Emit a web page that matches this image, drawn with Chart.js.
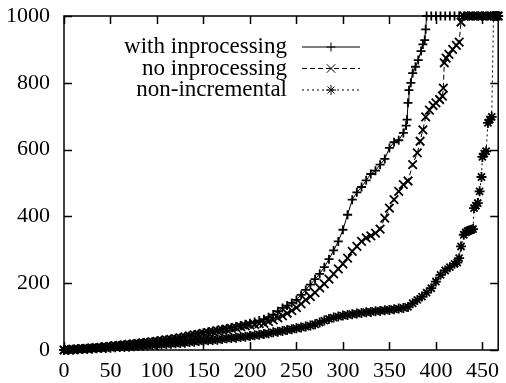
<!DOCTYPE html>
<html>
<head>
<meta charset="utf-8">
<script src="https://cdn.jsdelivr.net/npm/chart.js@4.4.1/dist/chart.umd.min.js"></script>
<style>
  html, body { margin: 0; padding: 0; background: #fff; }
  canvas { display: block; }
</style>
</head>
<body>
<canvas id="cactusChart" width="506" height="383"></canvas>
<script>
// solved instances (sorted) vs. time
const seriesNames = ['with inprocessing', 'no inprocessing', 'non-incremental'];

const withInprocX = [0, 5, 10, 15, 20, 25, 30, 35, 40, 45, 50, 55, 60, 65, 70, 75, 80, 85, 90, 95,
    100, 105, 110, 115, 120, 125, 130, 135, 140, 145, 150, 155, 160, 165, 170, 175, 180, 185, 190, 195,
    200, 205, 210, 215, 220, 225, 230, 235, 240, 245, 250, 255, 260, 265, 270, 275, 280, 285, 290, 295,
    300, 305, 310, 315, 320, 325, 330, 335, 340, 345, 350, 355, 360, 365,
    368, 369, 370, 371, 373, 375, 378, 381, 384, 386, 388, 389,
    390, 395, 400, 405, 410, 415, 420, 425, 430, 435, 440, 445, 450, 455, 460, 465, 467];
const withInprocY = [0, 1, 2, 3, 4, 5, 6, 7, 9, 10, 12, 13, 14, 16, 17, 19, 20, 22, 24, 25,
    27, 29, 31, 33, 35, 37, 40, 43, 46, 49, 52, 54, 57, 59, 62, 64, 67, 70, 73, 77,
    80, 84, 88, 92, 98, 106, 116, 126, 133, 141, 150, 165, 180, 196, 212, 228, 248, 272, 298, 325,
    360, 405, 450, 472, 488, 508, 527, 537, 555, 572, 605, 622, 628, 650,
    672, 690, 740, 778, 800, 829, 848, 868, 895, 915, 928, 960,
    1000, 1000, 1000, 1000, 1000, 1000, 1000, 1000, 1000, 1000, 1000, 1000, 1000, 1000, 1000, 1000, 1000];

const noInprocX = [0, 5, 10, 15, 20, 25, 30, 35, 40, 45, 50, 55, 60, 65, 70, 75, 80, 85, 90, 95,
    100, 105, 110, 115, 120, 125, 130, 135, 140, 145, 150, 155, 160, 165, 170, 175, 180, 185, 190, 195,
    200, 205, 210, 215, 220, 225, 230, 235, 240, 245, 250, 255, 260, 265, 270, 275, 280, 285, 290, 295,
    300, 305, 310, 315, 320, 325, 330, 335, 340, 345, 350, 355, 360, 365, 370, 375, 380,
    383, 386, 389, 393, 397, 400, 404, 407, 408, 409, 411, 414, 418, 422, 425, 427,
    430, 435, 440, 445, 450, 455, 460, 465, 467];
const noInprocY = [0, 1, 2, 3, 4, 5, 6, 7, 8, 10, 11, 13, 14, 15, 17, 18, 20, 21, 23, 24,
    26, 28, 30, 32, 34, 36, 39, 42, 45, 47, 50, 52, 55, 57, 60, 62, 65, 67, 70, 72,
    75, 77, 79, 80, 85, 90, 96, 102, 110, 118, 127, 138, 150, 160, 172, 186, 198, 212, 228, 243,
    258, 275, 295, 310, 325, 336, 342, 350, 362, 395, 425, 450, 475, 495, 506, 555, 590,
    625, 659, 698, 718, 732, 740, 750, 760, 784, 860, 874, 885, 900, 912, 922, 982,
    1000, 1000, 1000, 1000, 1000, 1000, 1000, 1000, 1000];

const nonIncX = [0, 5, 10, 15, 20, 25, 30, 35, 40, 45, 50, 55, 60, 65, 70, 75, 80, 85, 90, 95,
    100, 105, 110, 115, 120, 125, 130, 135, 140, 145, 150, 155, 160, 165, 170, 175, 180, 185, 190, 195,
    200, 205, 210, 215, 220, 225, 230, 235, 240, 245, 250, 255, 260, 265, 270, 275, 280, 285, 290, 295,
    300, 305, 310, 315, 320, 325, 330, 335, 340, 345, 350, 355, 360, 365, 370, 375, 380, 385, 390, 395,
    400, 405, 410, 415, 420, 423, 425, 427, 430, 432, 434, 436, 438, 440, 441, 443, 445, 447, 449,
    450, 452, 454, 456, 458, 460, 462, 465, 467];
const nonIncY = [0, 1, 1, 2, 3, 3, 4, 5, 6, 6, 7, 8, 9, 9, 10, 11, 12, 13, 14, 15,
    16, 17, 18, 19, 20, 21, 22, 24, 25, 27, 28, 29, 30, 31, 33, 35, 36, 37, 39, 40,
    42, 44, 46, 48, 50, 53, 55, 57, 60, 62, 65, 67, 70, 73, 77, 82, 88, 93, 97, 100,
    103, 105, 107, 109, 111, 113, 114, 116, 117, 119, 120, 122, 124, 126, 129, 140, 150, 160, 172, 185,
    205, 225, 238, 248, 258, 262, 275, 310, 345, 352, 356, 358, 360, 362, 425, 432, 440, 475, 518,
    578, 588, 595, 680, 690, 698, 1000, 1000, 1000];

const xTicks = [0, 50, 100, 150, 200, 250, 300, 350, 400, 450];
const yTicks = [0, 200, 400, 600, 800, 1000];

const toPoints = (xs, ys) => xs.map((x, i) => ({ x: x, y: ys[i] }));

Chart.defaults.font.family = '"Liberation Serif", "Times New Roman", serif';
Chart.defaults.color = '#000';

// gnuplot style frame with inward ticks on all sides + key in the upper left
const gnuplotFrame = {
    id: 'gnuplotFrame',
    afterDatasetsDraw(chart) {
        const ctx = chart.ctx;
        const a = chart.chartArea;
        const xs = chart.scales.x, ys = chart.scales.y;
        ctx.save();
        ctx.strokeStyle = '#000';
        ctx.lineWidth = 1.5;
        ctx.strokeRect(a.left, a.top, a.right - a.left, a.bottom - a.top);
        ctx.beginPath();
        xTicks.forEach(v => {
            const px = Math.round(xs.getPixelForValue(v)) + 0.5;
            ctx.moveTo(px, a.bottom); ctx.lineTo(px, a.bottom - 8);
            ctx.moveTo(px, a.top); ctx.lineTo(px, a.top + 8);
        });
        yTicks.forEach(v => {
            const py = Math.round(ys.getPixelForValue(v)) + 0.5;
            ctx.moveTo(a.left, py); ctx.lineTo(a.left + 8, py);
            ctx.moveTo(a.right, py); ctx.lineTo(a.right - 8, py);
        });
        ctx.stroke();

        ctx.font = '23px "Liberation Serif"';
        ctx.textAlign = 'right';
        ctx.textBaseline = 'middle';
        ctx.fillStyle = '#000';
        chart.data.datasets.forEach((ds, i) => {
            const ky = 47 + i * 21.5;
            ctx.fillText(ds.label, 287, ky);
            ctx.lineWidth = 1;
            ctx.setLineDash(ds.borderDash || []);
            ctx.beginPath();
            ctx.moveTo(302, ky); ctx.lineTo(360, ky);
            ctx.stroke();
            ctx.setLineDash([]);
            Chart.helpers.drawPoint(ctx, { pointStyle: ds.pointStyle, radius: ds.pointRadius, borderWidth: 1, rotation: 0 }, 331, ky);
        });
        ctx.restore();
    }
};

const ctx = document.getElementById('cactusChart').getContext('2d');
new Chart(ctx, {
    type: 'line',
    data: {
        datasets: [{
            label: seriesNames[0],
            data: toPoints(withInprocX, withInprocY),
            borderColor: '#000',
            borderWidth: 1,
            pointStyle: 'cross',
            pointRadius: 4.5,
            pointBorderWidth: 1.8,
            pointBorderColor: '#000',
            clip: false
        }, {
            label: seriesNames[1],
            data: toPoints(noInprocX, noInprocY),
            borderColor: '#000',
            borderWidth: 1,
            borderDash: [5, 3],
            pointStyle: 'crossRot',
            pointRadius: 6,
            pointBorderWidth: 1.8,
            pointBorderColor: '#000',
            clip: false
        }, {
            label: seriesNames[2],
            data: toPoints(nonIncX, nonIncY),
            borderColor: '#000',
            borderWidth: 1,
            borderDash: [2, 3],
            pointStyle: 'star',
            pointRadius: 5,
            pointBorderWidth: 1.8,
            pointBorderColor: '#000',
            clip: false
        }]
    },
    options: {
        responsive: false,
        animation: false,
        devicePixelRatio: 1,
        layout: { padding: { top: 16, right: 2, left: 0, bottom: 0 } },
        plugins: { legend: { display: false }, tooltip: { enabled: false } },
        scales: {
            x: {
                type: 'linear',
                min: 0,
                max: 467,
                grid: { display: false, drawTicks: false },
                border: { display: false },
                ticks: { stepSize: 50, includeBounds: false, autoSkip: false, maxRotation: 0, padding: 8, font: { size: 22 } },
                afterFit(s) { s.height = 33; s.paddingLeft = 0; s.paddingRight = 0; }
            },
            y: {
                min: 0,
                max: 1000,
                grid: { display: false, drawTicks: false },
                border: { display: false },
                ticks: { stepSize: 200, padding: 14, font: { size: 22 }, callback: v => String(v) },
                afterFit(s) { s.width = 64; s.paddingTop = 0; s.paddingBottom = 0; }
            }
        }
    },
    plugins: [gnuplotFrame]
});
</script>
</body>
</html>
